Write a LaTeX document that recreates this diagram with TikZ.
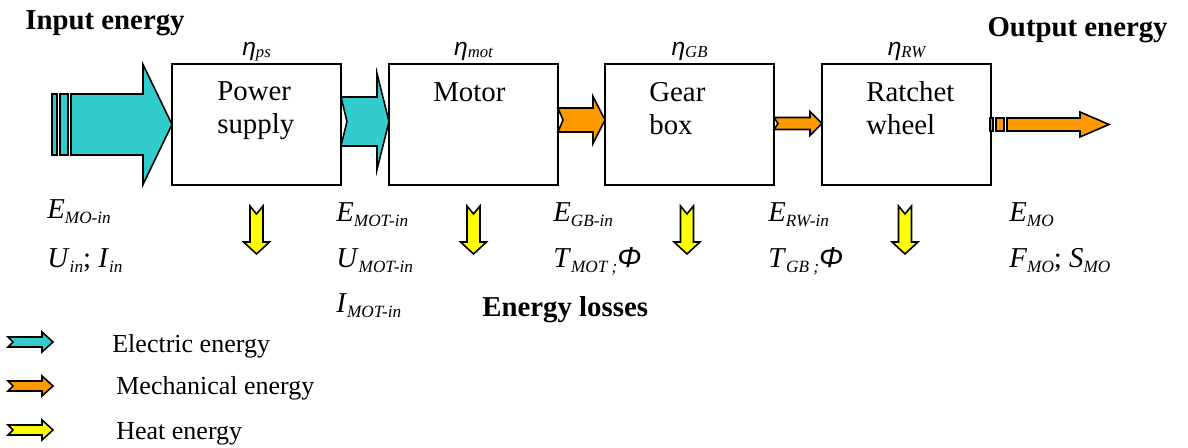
\documentclass[tikz,border=0pt]{standalone}
\usepackage{fontspec}
\setmainfont{Liberation Serif}
\newfontfamily\sansf{Liberation Sans}
\usetikzlibrary{calc}
\definecolor{elcyan}{HTML}{33CCCC}
\definecolor{mechorange}{HTML}{FF9900}
\definecolor{heatyellow}{HTML}{FFFF00}
\newcommand\mainsz{\fontsize{16.4}{18.8}\selectfont}
\newcommand\lbl[2]{\textit{#1}\raisebox{-2.8pt}{\fontsize{9.8}{10}\selectfont\itshape #2}}
\newcommand\effl[1]{{\sansf\itshape\fontsize{14}{16}\selectfont η}\raisebox{-1.2pt}{\fontsize{9.5}{10}\selectfont\itshape #1}}
\newcommand\phisym{{\sansf\itshape Φ}}
% block arrow: from, to, body half, head half, head length, notch, colour
\newcommand\blockarrow[7]{%
  \filldraw[fill=#7,arrowline] ($(#1)+(0,#3)$) -- ($(#2)+(-#5,#3)$) -- ($(#2)+(-#5,#4)$) -- (#2)
    -- ($(#2)+(-#5,-#4)$) -- ($(#2)+(-#5,-#3)$) -- ($(#1)+(0,-#3)$) -- ($(#1)+(#6,0)$) -- cycle;}
% heat arrow pointing down from top coordinate
\newcommand\heatarrow[1]{%
  \filldraw[fill=heatyellow,arrowline] ($(#1)+(-6.5,0)$) -- ($(#1)+(0,8)$) -- ($(#1)+(6.5,0)$)
    -- ($(#1)+(6.5,36)$) -- ($(#1)+(13,36)$) -- ($(#1)+(0,48)$) -- ($(#1)+(-13,36)$)
    -- ($(#1)+(-6.5,36)$) -- cycle;}
\tikzset{
  arrowline/.style={draw=black,line width=0.9pt,line join=miter},
  box/.style={draw,line width=0.9pt,minimum width=3.38cm,minimum height=2.42cm,inner sep=0pt,outer sep=0pt},
  boxtext/.style={anchor=base west,inner sep=0pt,font=\mainsz},
  qty/.style={anchor=base west,inner sep=0pt,font=\mainsz},
  head/.style={inner sep=0pt,font=\mainsz\bfseries},
  eff/.style={anchor=base,inner sep=0pt},
  legtext/.style={anchor=base west,inner sep=0pt,font=\fontsize{14.8}{17}\selectfont},
}
\begin{document}
\begin{tikzpicture}[x=0.02cm,y=-0.02cm]
\useasboundingbox (0,0) rectangle (1188,448);
% boxes
\node[box] (ps)  at (256.5,124.5) {};
\node[box] (mot) at (473.5,124.5) {};
\node[box] (gb)  at (689.5,124.5) {};
\node[box] (rw)  at (906.5,124.5) {};
% box texts
\node[boxtext] (ps1) at ($(ps.north west)+(45,36)$) {Power};
\node[boxtext] (ps2) at ($(ps.north west)+(45,69)$) {supply};
\node[boxtext] (mot1) at ($(mot.north west)+(44,37)$) {Motor};
\node[boxtext] (gb1) at ($(gb.north west)+(44,37)$) {Gear};
\node[boxtext] (gb2) at ($(gb.north west)+(44,70)$) {box};
\node[boxtext] (rw1) at ($(rw.north west)+(44,37)$) {Ratchet};
\node[boxtext] (rw2) at ($(rw.north west)+(44,70)$) {wheel};
% efficiencies
\node[eff] (e1) at ($(ps.north)+(0,-9)$) {\effl{ps}};
\node[eff] (e2) at ($(mot.north)+(0,-9)$) {\effl{mot}};
\node[eff] (e3) at ($(gb.north)+(0,-9)$) {\effl{GB}};
\node[eff] (e4) at ($(rw.north)+(0,-9)$) {\effl{RW}};
% headings
\node[head,anchor=base west] (inE) at (25,30) {Input energy};
\node[head,anchor=base east] (outE) at (1168,37) {Output energy};
\node[head,anchor=base west] (loss) at (482,317) {Energy losses};
% input arrow
\coordinate (instart) at (71,124.5);
\filldraw[fill=elcyan,arrowline] (52,94) rectangle (57,155);
\filldraw[fill=elcyan,arrowline] (60,94) rectangle (68,155);
\blockarrow{instart}{ps.west}{30.5}{60}{29}{0}{elcyan}
% electric arrow ps -> motor
\coordinate (a2s) at ($(ps.east)+(0,-3)$);
\coordinate (a2e) at ($(mot.west)+(0,-3)$);
\blockarrow{a2s}{a2e}{24.5}{48}{12}{6}{elcyan}
% mechanical arrow motor -> gear box
\coordinate (a3s) at ($(mot.east)+(0,-4.5)$);
\coordinate (a3e) at ($(gb.west)+(0,-4.5)$);
\blockarrow{a3s}{a3e}{12}{23.5}{12}{5}{mechorange}
% mechanical arrow gear box -> ratchet wheel
\coordinate (a4s) at ($(gb.east)+(0,-1)$);
\coordinate (a4e) at ($(rw.west)+(0,-1)$);
\blockarrow{a4s}{a4e}{6}{12}{12}{4}{mechorange}
% output arrow
\filldraw[fill=mechorange,arrowline] (990,118) rectangle (993,131);
\filldraw[fill=mechorange,arrowline] (996,118) rectangle (1004,131);
\coordinate (outs) at (1007,124.5);
\coordinate (oute) at (1109,124.5);
\blockarrow{outs}{oute}{6.5}{12.5}{29}{0}{mechorange}
% heat losses
\heatarrow{$(ps.south)+(0,21)$}
\heatarrow{$(mot.south)+(0,21)$}
\heatarrow{$(gb.south)+(-2.5,21)$}
\heatarrow{$(rw.south)+(-1.5,21)$}
% quantities
\node[qty] (q1a) at (47,219) {\lbl{E}{MO-in}};
\node[qty] (q1b) at (47,268) {\lbl{U}{in}; \lbl{I}{in}};
\node[qty] (q2a) at (336,222) {\lbl{E}{MOT-in}};
\node[qty] (q2b) at (336,268) {\lbl{U}{MOT-in}};
\node[qty] (q2c) at (336,313) {\lbl{I}{MOT-in}};
\node[qty] (q3a) at (553,222) {\lbl{E}{GB-in}};
\node[qty] (q3b) at (553,268) {\lbl{T}{MOT ;}\phisym};
\node[qty] (q4a) at (768,222) {\lbl{E}{RW-in}};
\node[qty] (q4b) at (768,268) {\lbl{T}{GB ;}\phisym};
\node[qty] (q5a) at (1009,222) {\lbl{E}{MO}};
\node[qty] (q5b) at (1009,268) {\lbl{F}{MO}; \lbl{S}{MO}};
% legend
\coordinate (l1s) at (8,342);  \coordinate (l1e) at (53,342);
\coordinate (l2s) at (8,386);  \coordinate (l2e) at (53,386);
\coordinate (l3s) at (8,430);  \coordinate (l3e) at (53,430);
\blockarrow{l1s}{l1e}{5}{10}{11}{5}{elcyan}
\blockarrow{l2s}{l2e}{5}{10}{11}{5}{mechorange}
\blockarrow{l3s}{l3e}{5}{10}{11}{5}{heatyellow}
\node[legtext] (lt1) at (112,353) {Electric energy};
\node[legtext] (lt2) at (116,395) {Mechanical energy};
\node[legtext] (lt3) at (116,440) {Heat energy};
\end{tikzpicture}
\end{document}
